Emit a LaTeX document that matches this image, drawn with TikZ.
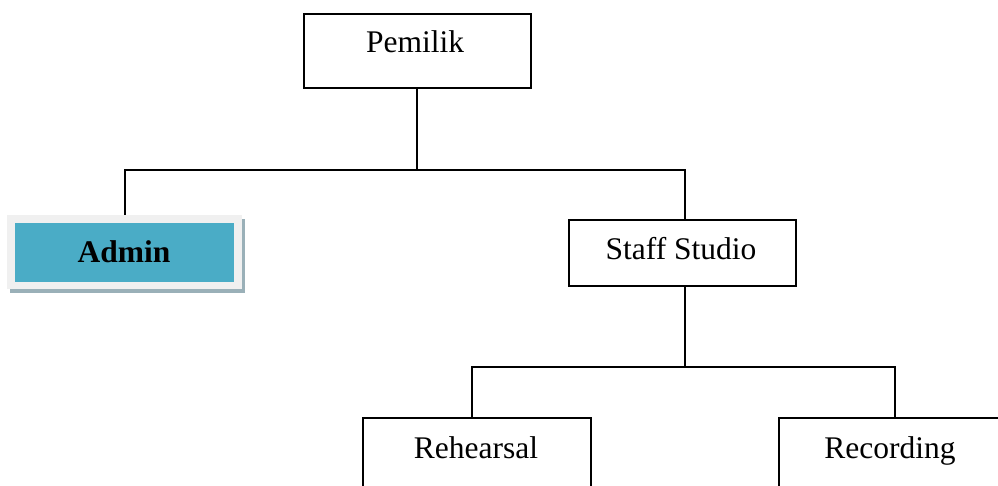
\documentclass[tikz,border=0pt]{standalone}
\usepackage{fontspec}
\setmainfont{Liberation Serif}
\begin{document}
\begin{tikzpicture}[x=1pt,y=-1pt,
  box/.style={draw=black, line width=1.7pt, fill=white, inner sep=0pt},
  lbl/.style={font=\fontsize{31.5}{36}\selectfont, inner sep=0pt, anchor=base},
  conn/.style={draw=black, line width=1.7pt}]
\useasboundingbox (0,0) rectangle (998,486);
\clip (0,0) rectangle (998,486);
% boxes
\node[box, anchor=north west, minimum width=227, minimum height=74] (pem) at (303,13) {};
\node[lbl] (pemt) at (415,53) {Pemilik};
\node[box, anchor=north west, minimum width=227, minimum height=66] (staff) at (568,219) {};
\node[lbl] (stafft) at (681,260) {Staff Studio};
\node[box, anchor=north west, minimum width=228, minimum height=100] (reh) at (362,417) {};
\node[lbl] (reht) at (476,458) {Rehearsal};
\node[box, anchor=north west, minimum width=240, minimum height=100] (rec) at (778,417) {};
\node[lbl] (rect) at (890,458) {Recording};
% admin
\fill[fill={rgb,255:red,154;green,176;blue,184}] (10,219) rectangle (245,293);
\node[draw=none, fill={rgb,255:red,240;green,240;blue,240}, anchor=north west, minimum width=235, minimum height=74, inner sep=0pt] (adm) at (7,215) {};
\node[draw=none, fill={rgb,255:red,74;green,172;blue,198}, anchor=north west, minimum width=219, minimum height=59, inner sep=0pt] (admi) at (15,223) {};
\node[lbl, font=\fontsize{31.5}{36}\selectfont\bfseries] (admt) at (124,263) {Admin};
% connectors
\coordinate (j1) at (417,170);
\coordinate (j2) at (685,367);
\draw[conn] (pem.south -| j1) -- (j1);
\draw[conn] (adm.north -| 125,0) |- (j1) -| (staff.north -| j2);
\draw[conn] (staff.south -| j2) -- (j2);
\draw[conn] (reh.north -| 472,0) |- (j2) -| (rec.north -| 895,0);
\end{tikzpicture}
\end{document}
